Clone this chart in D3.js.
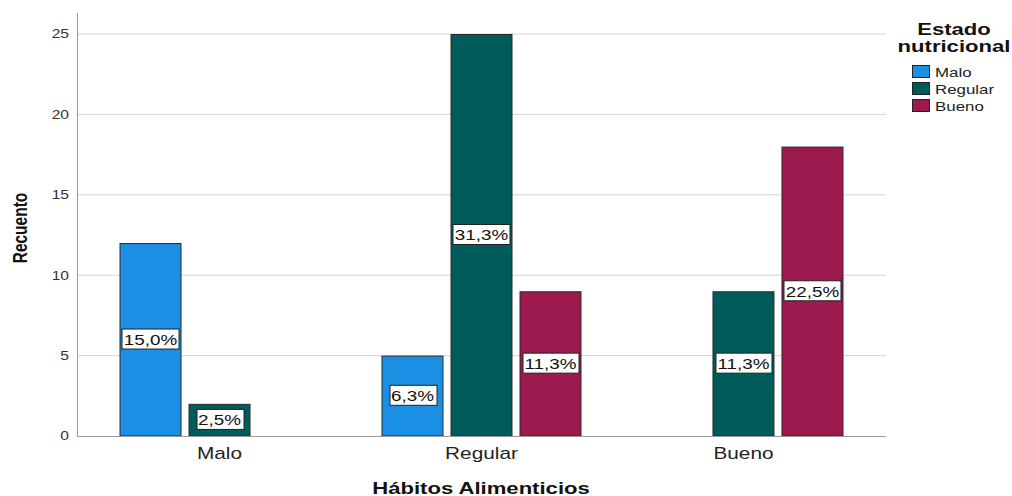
<!DOCTYPE html>
<html><head><meta charset="utf-8">
<script src="https://cdn.jsdelivr.net/npm/d3@7"></script>
<style>body{margin:0;background:#fff}svg{display:block;font-family:"Liberation Sans",Arial,sans-serif}</style>
</head><body><svg id="c" width="1012" height="496"></svg>
<script>
const categories = ["Malo", "Regular", "Bueno"];
const series = ["Malo", "Regular", "Bueno"];
const countsMalo = [12, 5, 0];
const countsRegular = [2, 25, 9];
const countsBueno = [0, 9, 18];
const pctMalo = ["15,0%", "6,3%", null];
const pctRegular = ["2,5%", "31,3%", "11,3%"];
const pctBueno = [null, "11,3%", "22,5%"];
const yTicks = [0, 5, 10, 15, 20, 25];
const colors = ["#1a8fe3", "#005c5b", "#9c1a4e"];
const SX = 1.3; // horizontal text stretch seen in the reference

const svg = d3.select("#c");
const x0 = d3.scaleBand().domain(categories).range([77, 886]).paddingOuter(0.044).paddingInner(0);
const x1 = d3.scaleBand().domain(series).range([0, 200]).paddingInner(7/69);
const y = d3.scaleLinear().domain([0, 25]).range([436, 34]);

function txt(g, x, yy, s, size, opts = {}) {
  const t = g.append("text").attr("transform", `translate(${x},${yy}) scale(${SX},1)`)
    .attr("font-size", size).attr("fill", opts.fill || "#222")
    .attr("text-anchor", opts.anchor || "middle").text(s);
  if (opts.bold) t.attr("font-weight", "bold");
  if (opts.dy) t.attr("dy", opts.dy);
  return t;
}

// grid
svg.append("g").selectAll("line").data(yTicks.filter(d => d > 0)).join("line")
  .attr("x1", 77).attr("x2", 886).attr("y1", d => y(d)).attr("y2", d => y(d))
  .attr("stroke", "#d4d4d4").attr("stroke-width", 1);

// y axis
const ya = svg.append("g").attr("transform", "translate(77,0)")
  .call(d3.axisLeft(y).tickValues(yTicks).tickSize(0).tickPadding(8));
ya.select(".domain").remove();
ya.selectAll(".tick text").each(function() {
  const t = d3.select(this);
  t.attr("transform", `translate(-8,0) scale(${SX},1)`).attr("x", 0);
}).attr("font-size", 12).attr("fill", "#333").attr("font-family", "Liberation Sans, Arial, sans-serif");
svg.append("line").attr("x1", 77.5).attr("x2", 77.5).attr("y1", 13).attr("y2", 436.5).attr("stroke", "#9a9a9a");

// bars
const seriesCounts = [countsMalo, countsRegular, countsBueno];
const seriesPct = [pctMalo, pctRegular, pctBueno];
const data = [];
categories.forEach((c, ci) => series.forEach((s, si) => {
  data.push({c, s, si, v: seriesCounts[si][ci], p: seriesPct[si][ci]});
}));
const groupLeft = c => x0(c) + x0.bandwidth()/2 - 100;
const bars = data.filter(d => d.v > 0);
svg.append("g").selectAll("rect").data(bars).join("rect")
  .attr("x", d => groupLeft(d.c) + x1(d.s) + 0.5)
  .attr("y", d => y(d.v) + 0.5)
  .attr("width", x1.bandwidth() - 1)
  .attr("height", d => y(0) - y(d.v) - 0.5)
  .attr("fill", d => colors[d.si]).attr("stroke", "#2a2a2a").attr("stroke-width", 1);

// x axis line
svg.append("line").attr("x1", 77).attr("x2", 886).attr("y1", 436.5).attr("y2", 436.5).attr("stroke", "#9a9a9a");

// labels
const lg = svg.append("g").selectAll("g").data(bars.filter(d => d.p)).join("g")
  .attr("transform", d => `translate(${groupLeft(d.c) + x1(d.s) + x1.bandwidth()/2},${y(d.v/2)})`);
lg.each(function(d) {
  const g = d3.select(this);
  const t = txt(g, 0, 0, d.p, 14.5, {fill: "#111", dy: "0.36em"});
  const w = t.node().getBBox().width * SX + 4;
  g.insert("rect", "text").attr("x", Math.round(-w/2) + 0.5).attr("y", -10.5).attr("width", Math.round(w)).attr("height", 20)
    .attr("fill", "#fff").attr("stroke", "#222").attr("stroke-width", 1);
});

// category labels
const cg = svg.append("g");
categories.forEach(c => txt(cg, x0(c) + x0.bandwidth()/2, 459, c, 16));

// axis titles
txt(svg, 481, 494, "Hábitos Alimenticios", 17, {bold: true, fill: "#111"});
svg.append("text").attr("transform", `translate(27,228) rotate(-90) scale(1,${SX})`).attr("text-anchor", "middle")
  .attr("font-size", 15.5).attr("font-weight", "bold").attr("fill", "#111").text("Recuento");

// legend
const leg = svg.append("g");
txt(leg, 954, 35, "Estado", 17, {bold: true, fill: "#111"});
txt(leg, 954, 52, "nutricional", 17, {bold: true, fill: "#111"});
const li = leg.selectAll("g.it").data(series).join("g").attr("class", "it")
  .attr("transform", (d, i) => `translate(912,${65 + i*17})`);
li.append("rect").attr("x", 0.5).attr("y", 0.5).attr("width", 17).attr("height", 12)
  .attr("fill", (d, i) => colors[i]).attr("stroke", "#222");
li.each(function(d) { txt(d3.select(this), 23, 11.5, d, 13, {anchor: "start"}); });
</script></body></html>
